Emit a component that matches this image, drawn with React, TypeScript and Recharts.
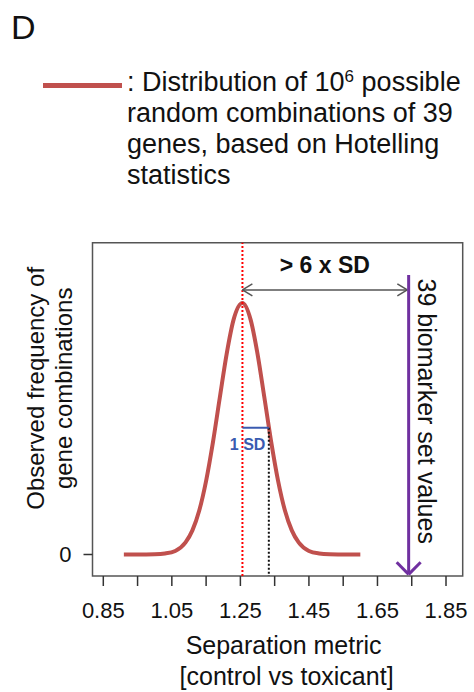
import React from "react";
import {
  Legend,
  Line,
  LineChart,
  ReferenceArea,
  ReferenceLine,
  XAxis,
  YAxis,
} from "recharts";

const FONT = "'Liberation Sans', Arial, sans-serif";

// separation metric (x) and observed frequency (scaled, peak = 1)
const X_VALUES = [
  0.91, 0.95, 1.0, 1.03, 1.06, 1.09, 1.11, 1.13, 1.15, 1.17, 1.19, 1.21, 1.23,
  1.256, 1.28, 1.3, 1.32, 1.34, 1.36, 1.38, 1.4, 1.42, 1.45, 1.48, 1.51, 1.56,
  1.6,
];
const FREQ = [
  0, 0, 0.001, 0.004, 0.014, 0.048, 0.096, 0.175, 0.293, 0.447, 0.624, 0.798,
  0.933, 1, 0.933, 0.798, 0.624, 0.447, 0.293, 0.175, 0.096, 0.048, 0.014,
  0.004, 0.001, 0, 0,
];

const X_TICKS = [0.85, 0.95, 1.05, 1.15, 1.25, 1.35, 1.45, 1.55, 1.65, 1.75, 1.85];
const X_TICK_LABELS = ["0.85", "1.05", "1.25", "1.45", "1.65", "1.85"];
const Y_TICKS = [0];

const X_DOMAIN: [number, number] = [0.8185, 1.8987];
const Y_DOMAIN: [number, number] = [-0.0855, 1.2398];

// annotation values
const MEAN = 1.256;
const SD_END = 1.333;
const SD_LEVEL = 0.504;
const BIOMARKER = 1.741;
const GAP_ARROW_Y = 1.052;
const BIOMARKER_TOP = 1.111;
const BIOMARKER_TIP = -0.079;

const CURVE_COLOR = "#C0504D";
const PURPLE = "#7030A0";
const SD_BLUE = "#3A5BB0";

const data = X_VALUES.map((x, i) => ({ x, freq: FREQ[i] }));

const renderLegend = (props: any) => {
  const color = props?.payload?.[0]?.color ?? CURVE_COLOR;
  return (
    <div style={{ position: "relative", width: 474, height: 200, fontFamily: FONT }}>
      <div
        style={{
          position: "absolute",
          left: 43,
          top: 82.5,
          width: 79,
          height: 5,
          background: color,
        }}
      />
      <div
        style={{
          position: "absolute",
          left: 127,
          top: 67,
          fontSize: 27,
          lineHeight: "31px",
          color: "#111",
          whiteSpace: "nowrap",
        }}
      >
        : Distribution of 10
        <sup style={{ fontSize: 17, lineHeight: 0, verticalAlign: "9px" }}>6</sup>{" "}
        possible
        <br />
        random combinations of 39
        <br />
        genes, based on Hotelling
        <br />
        statistics
      </div>
    </div>
  );
};

const renderXLabel = (props: any) => {
  const vb = props?.viewBox ?? { x: 92.5, y: 576, width: 370.2, height: 40 };
  const cx = vb.x + vb.width / 2;
  return (
    <g fontFamily={FONT} fontSize={25} fill="#111" textAnchor="middle">
      <text x={cx + 6} y={vb.y + 78}>Separation metric</text>
      <text x={cx + 9} y={vb.y + 109}>[control vs toxicant]</text>
    </g>
  );
};

const renderYLabel = (props: any) => {
  const vb = props?.viewBox ?? { x: 52.5, y: 242.7, width: 40, height: 333.3 };
  const cy = vb.y + vb.height / 2 - 21;
  const x1 = vb.x - 8.5;
  const x2 = vb.x + 19.5;
  return (
    <g fontFamily={FONT} fontSize={24} fill="#111" textAnchor="middle">
      <text x={x1} y={cy} transform={`rotate(-90 ${x1} ${cy})`}>
        Observed frequency of
      </text>
      <text x={x2} y={cy} transform={`rotate(-90 ${x2} ${cy})`}>
        gene combinations
      </text>
    </g>
  );
};

const renderBiomarkerLabel = (props: any) => {
  const vb = props?.viewBox ?? { x: 409, y: 275, width: 0, height: 300 };
  const x = vb.x + 9;
  const y = vb.y + vb.height / 2 - 13.5;
  return (
    <text
      x={x}
      y={y}
      transform={`rotate(90 ${x} ${y})`}
      textAnchor="middle"
      fontFamily={FONT}
      fontSize={25}
      fill="#111"
    >
      39 biomarker set values
    </text>
  );
};

const App = () => {
  // arrowhead arm sizes in data units
  const ax = 0.029;
  const ay = 0.024;
  return (
    <div
      style={{
        position: "absolute",
        left: 0,
        top: 0,
        width: 474,
        height: 692,
        background: "#fff",
      }}
    >
      <div
        style={{
          position: "absolute",
          left: 11,
          top: 10,
          fontFamily: FONT,
          fontSize: 34,
          lineHeight: "34px",
          color: "#111",
          zIndex: 2,
        }}
      >
        D
      </div>
      <LineChart
        width={474}
        height={692}
        data={data}
        margin={{ top: 242.7, right: 11.3, left: 52.5, bottom: 76 }}
      >
        <Legend
          content={renderLegend}
          layout="horizontal"
          verticalAlign="middle"
          align="center"
          wrapperStyle={{ left: 0, top: 0, width: 474, height: 200 }}
        />
        <XAxis
          type="number"
          dataKey="x"
          domain={X_DOMAIN}
          ticks={X_TICKS}
          interval={0}
          allowDataOverflow
          height={40}
          tickSize={10}
          tickMargin={16}
          axisLine={false}
          tickLine={{ stroke: "#333", strokeWidth: 1.5 }}
          tick={{ fill: "#111", fontSize: 22, fontFamily: FONT }}
          tickFormatter={(v: number) =>
            X_TICK_LABELS.includes(v.toFixed(2)) ? v.toFixed(2) : ""
          }
          label={renderXLabel}
        />
        <YAxis
          type="number"
          domain={Y_DOMAIN}
          ticks={Y_TICKS}
          allowDataOverflow
          width={40}
          tickSize={9}
          tickMargin={12}
          axisLine={false}
          tickLine={{ stroke: "#333", strokeWidth: 1.5 }}
          tick={{ fill: "#111", fontSize: 22, fontFamily: FONT }}
          label={renderYLabel}
        />
        <ReferenceArea
          x1={X_DOMAIN[0]}
          x2={X_DOMAIN[1]}
          y1={Y_DOMAIN[0]}
          y2={Y_DOMAIN[1]}
          fill="none"
          stroke="#555"
          strokeWidth={1.5}
          ifOverflow="visible"
        />
        <Line
          type="monotone"
          dataKey="freq"
          name="Distribution of 10^6 possible random combinations of 39 genes"
          stroke={CURVE_COLOR}
          strokeWidth={4}
          dot={false}
          isAnimationActive={false}
        />
        <ReferenceLine
          x={MEAN}
          stroke="#FF0000"
          strokeWidth={2}
          strokeDasharray="2 2"
        />
        <ReferenceLine
          segment={[
            { x: SD_END, y: SD_LEVEL },
            { x: SD_END, y: Y_DOMAIN[0] },
          ]}
          stroke="#111"
          strokeWidth={2}
          strokeDasharray="2 2"
          ifOverflow="visible"
        />
        <ReferenceLine
          segment={[
            { x: MEAN, y: SD_LEVEL },
            { x: SD_END, y: SD_LEVEL },
          ]}
          stroke={SD_BLUE}
          strokeWidth={2}
          ifOverflow="visible"
          label={{
            value: "1 SD",
            position: "bottom",
            offset: 11,
            dx: -8,
            fill: SD_BLUE,
            fontSize: 16,
            fontWeight: "bold",
            fontFamily: FONT,
          }}
        />
        {/* gap between distribution mean and biomarker set */}
        <ReferenceLine
          segment={[
            { x: MEAN, y: GAP_ARROW_Y },
            { x: BIOMARKER - 0.004, y: GAP_ARROW_Y },
          ]}
          stroke="#555"
          strokeWidth={1.5}
          ifOverflow="visible"
          label={{
            value: "> 6 x SD",
            position: "top",
            offset: 17,
            fill: "#111",
            fontSize: 23,
            fontWeight: "bold",
            fontFamily: FONT,
          }}
        />
        <ReferenceLine
          segment={[
            { x: MEAN + ax, y: GAP_ARROW_Y + ay },
            { x: MEAN, y: GAP_ARROW_Y },
          ]}
          stroke="#555"
          strokeWidth={1.5}
          ifOverflow="visible"
        />
        <ReferenceLine
          segment={[
            { x: MEAN + ax, y: GAP_ARROW_Y - ay },
            { x: MEAN, y: GAP_ARROW_Y },
          ]}
          stroke="#555"
          strokeWidth={1.5}
          ifOverflow="visible"
        />
        <ReferenceLine
          segment={[
            { x: BIOMARKER - 0.004 - ax, y: GAP_ARROW_Y + ay },
            { x: BIOMARKER - 0.004, y: GAP_ARROW_Y },
          ]}
          stroke="#555"
          strokeWidth={1.5}
          ifOverflow="visible"
        />
        <ReferenceLine
          segment={[
            { x: BIOMARKER - 0.004 - ax, y: GAP_ARROW_Y - ay },
            { x: BIOMARKER - 0.004, y: GAP_ARROW_Y },
          ]}
          stroke="#555"
          strokeWidth={1.5}
          ifOverflow="visible"
        />
        {/* biomarker set arrow */}
        <ReferenceLine
          segment={[
            { x: BIOMARKER, y: BIOMARKER_TOP },
            { x: BIOMARKER, y: BIOMARKER_TIP },
          ]}
          stroke={PURPLE}
          strokeWidth={3}
          ifOverflow="visible"
          label={renderBiomarkerLabel}
        />
        <ReferenceLine
          segment={[
            { x: BIOMARKER - 0.035, y: BIOMARKER_TIP + 0.048 },
            { x: BIOMARKER, y: BIOMARKER_TIP },
          ]}
          stroke={PURPLE}
          strokeWidth={3}
          ifOverflow="visible"
        />
        <ReferenceLine
          segment={[
            { x: BIOMARKER + 0.035, y: BIOMARKER_TIP + 0.048 },
            { x: BIOMARKER, y: BIOMARKER_TIP },
          ]}
          stroke={PURPLE}
          strokeWidth={3}
          ifOverflow="visible"
        />
      </LineChart>
    </div>
  );
};

export default App;
